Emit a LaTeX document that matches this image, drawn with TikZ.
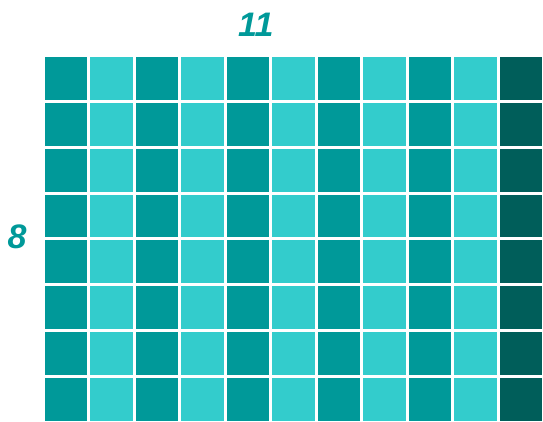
\documentclass[tikz,border=0pt]{standalone}
\usepackage{fontspec}
\newfontfamily\dimfont{Liberation Sans}
\definecolor{GRIDteal}{HTML}{009999}
\definecolor{GRIDlight}{HTML}{33CCCC}
\definecolor{GRIDdark}{HTML}{005E5A}
\usepackage{tikz}
\usetikzlibrary{positioning}

\begin{document}
\begin{tikzpicture}[x=22.725pt, y=22.95pt,
   cell/.style={minimum width=21.225pt, minimum height=21.45pt, inner sep=0pt, outer sep=0pt},
   dimlabel/.style={text=GRIDteal, font=\fontsize{17}{20}\selectfont\dimfont\bfseries\itshape}]
      \useasboundingbox (-0.990,0) rectangle (10.957,9.172);
      % Columns: teal / light teal alternating, last one dark
      \foreach \i in {0,...,10}{
         \pgfmathsetmacro{\shade}{\i==10 ? "GRIDdark" : (mod(\i,2)==0 ? "GRIDteal" : "GRIDlight")}
         \foreach \j in {0,...,7}{
            \node[cell, fill=\shade] (cell-\i-\j) at (\i+0.467,\j+0.467) {};
         }
      }
      % Dimension labels
      \node[dimlabel] (width) at (4.64,8.63) {11};
      \node[dimlabel] (height) at (-0.616,4.01) {8};
   \end{tikzpicture}
\end{document}
